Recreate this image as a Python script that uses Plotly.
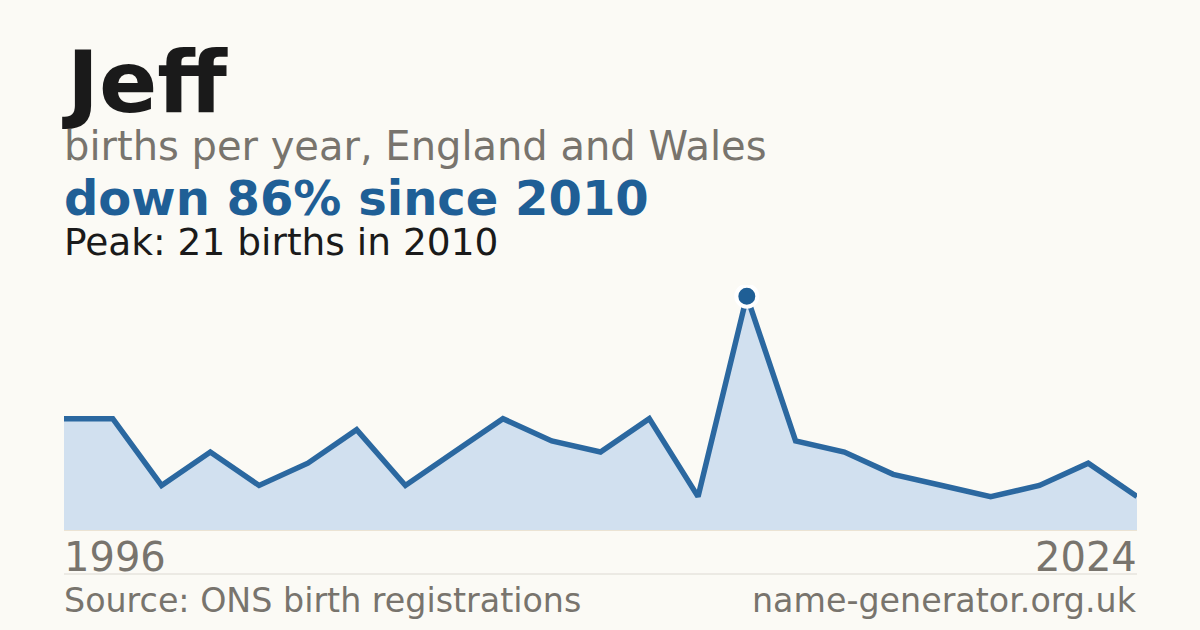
import plotly.graph_objects as go

name = "Jeff"
years = [str(y) for y in range(1996, 2018)] + ["2024"]
births = [10, 10, 4, 7, 4, 6, 9, 4, 7, 10, 8, 7, 10, 3, 21, 8, 7, 5, 4, 3, 4, 6, 3]

peak = max(births)
peak_year = years[births.index(peak)]
drop = round((peak - births[-1]) / peak * 100)

BLUE = "#1f5f96"
GREY = "#78746d"
INK = "#1a1a1a"
BG = "#fbfaf5"
FONT = "DejaVu Sans"

# plot area runs from y=285px to y=530px
TOP, BOTTOM, H = 285, 100, 630
PLOT_H = H - TOP - BOTTOM


def py(px):
    # pixel row -> paper y
    return (H - BOTTOM - px) / PLOT_H


fig = go.Figure()
fig.add_trace(go.Scatter(
    x=years, y=births,
    mode="lines",
    line=dict(color="#2b68a0", width=5.5),
    fill="tozeroy",
    fillcolor="#d1e0ef",
    hoverinfo="skip",
))
fig.add_trace(go.Scatter(
    x=[peak_year], y=[peak],
    mode="markers",
    marker=dict(color=BLUE, size=21, line=dict(color="white", width=4)),
    hoverinfo="skip",
))


def label(text, x, y, size, color, xanchor="left", bold=False):
    if bold:
        text = "<b>" + text + "</b>"
    fig.add_annotation(text=text, x=x, y=py(y), xref="paper", yref="paper",
                       xanchor=xanchor, yanchor="middle", showarrow=False,
                       font=dict(family=FONT, size=size, color=color))


label(name, -0.004, 82, 86, INK, bold=True)
label("births per year, England and Wales", -0.002, 146, 40, GREY)
label(f"down {drop}% since {peak_year}", -0.002, 198, 48, BLUE, bold=True)
label(f"Peak: {peak} births in {peak_year}", -0.002, 242, 37.5, INK)
label(years[0], -0.002, 557, 40, GREY)
label(years[-1], 1.002, 557, 40, GREY, xanchor="right")
label("Source: ONS birth registrations", -0.002, 600, 33.3, GREY)
label("name-generator.org.uk", 1.002, 600, 33.3, GREY, xanchor="right")

fig.add_shape(type="line", xref="paper", yref="paper", x0=0, x1=1,
              y0=py(574), y1=py(574), line=dict(color="#dcd9d2", width=1))

fig.update_layout(
    width=1200, height=H,
    margin=dict(l=64, r=63, t=TOP, b=BOTTOM),
    paper_bgcolor=BG, plot_bgcolor=BG,
    showlegend=False,
    xaxis=dict(type="category", range=[0, len(years) - 1], showgrid=False,
               showticklabels=False, zeroline=False, showline=True,
               linecolor="#ebe3d3", linewidth=1, fixedrange=True),
    yaxis=dict(range=[0, 22], showgrid=False, showticklabels=False,
               zeroline=False, fixedrange=True),
)

fig.write_html("out.html", config={"displayModeBar": False},
               post_script="document.body.style.margin='0';"
                           "document.body.style.background='#fbfaf5';")
